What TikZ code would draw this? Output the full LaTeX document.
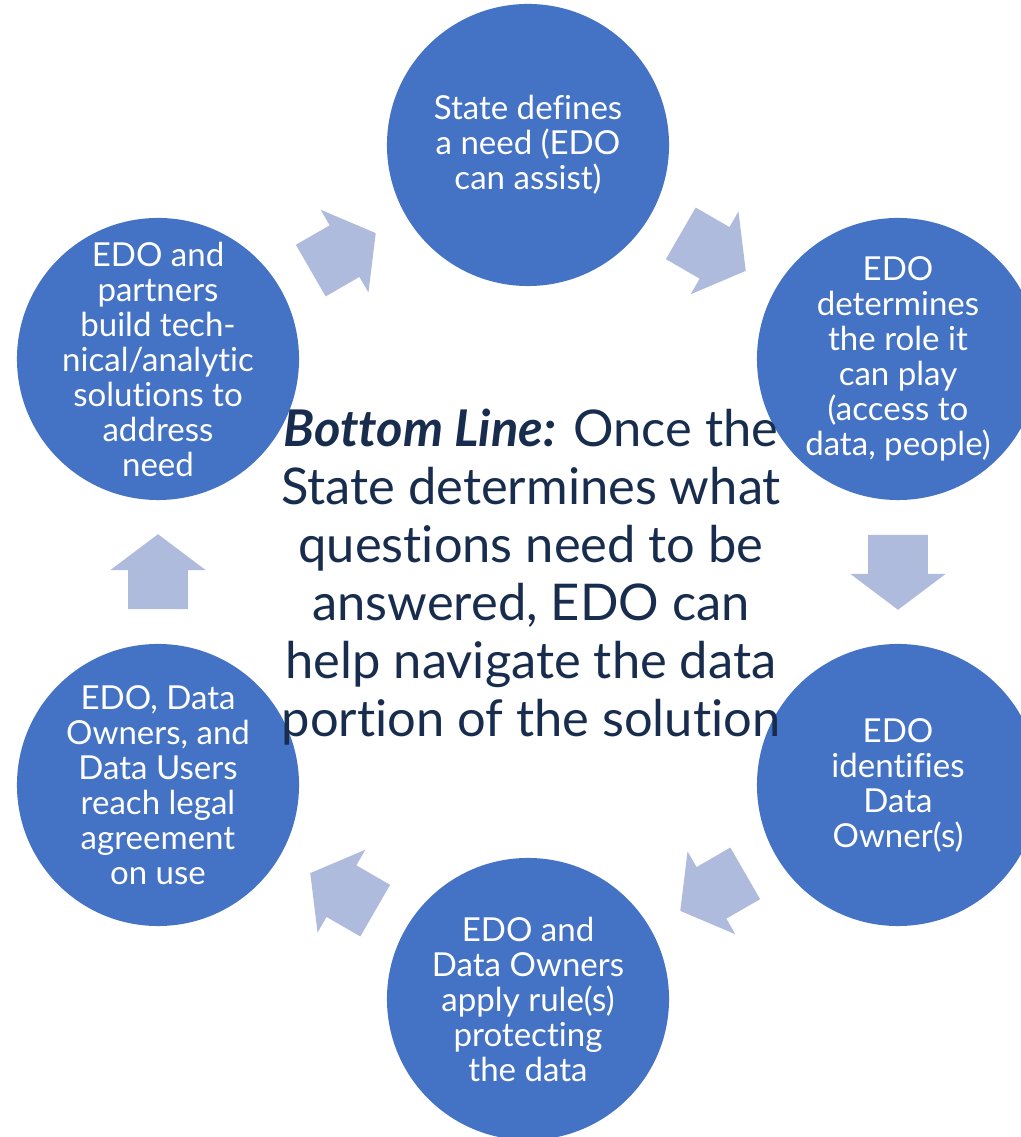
\documentclass[tikz,border=0pt]{standalone}
\usepackage{fontspec}
\setmainfont{Lato}[Ligatures=CommonOff]
\usetikzlibrary{shapes.arrows,calc}
\definecolor{stageblue}{RGB}{68,114,196}
\definecolor{turnblue}{RGB}{175,187,221}
\definecolor{linenavy}{RGB}{24,45,78}
\tikzstyle{stage} = [circle, fill=stageblue, text=white, minimum size=7.05cm, inner sep=-2cm, align=center, font=\fontsize{23.5}{24.9}\selectfont]
\tikzstyle{turn} = [single arrow, fill=turnblue, anchor=tail, minimum height=1.875cm, inner xsep=0pt, inner ysep=0.7375cm, single arrow head extend=0.45cm, single arrow tip angle=106]

\begin{document}
\begin{tikzpicture}[x=0.025cm, y=0.025cm]
\useasboundingbox (0,0) rectangle (1020,1137);

% the six steps of the cycle
\node [stage] (need) at (528,992) {State defines\\a need (EDO\\can assist)};
\node [stage] (role) at (898,778) {EDO\\determines\\the role it\\can play\\(access to\\data, people)};
\node [stage] (owners) at (898,352) {EDO\\identifies\\Data\\Owner(s)};
\node [stage] (rules) at (528,138) {EDO and\\Data Owners\\apply rule(s)\\protecting\\the data};
\node [stage] (legal) at (158,352) {EDO, Data\\Owners, and\\Data Users\\reach legal\\agreement\\on use};
\node [stage] (build) at (158,778) {EDO and\\partners\\build tech-\\nical/analytic\\solutions to\\address\\need};

% block arrows between the steps
\coordinate (m1) at ($(need)!0.5!(role)$);
\coordinate (m2) at ($(role)!0.5!(owners)$);
\coordinate (m3) at ($(owners)!0.5!(rules)$);
\coordinate (m4) at ($(rules)!0.5!(legal)$);
\coordinate (m5) at ($(legal)!0.5!(build)$);
\coordinate (m6) at ($(build)!0.5!(need)$);
\node [turn, rotate=-30] (t1) at ($(m1)!0.9375cm!(need)$) {};
\node [turn, rotate=-90] (t2) at ($(m2)!0.9375cm!(role)$) {};
\node [turn, rotate=-150] (t3) at ($(m3)!0.9375cm!(owners)$) {};
\node [turn, rotate=150] (t4) at ($(m4)!0.9375cm!(rules)$) {};
\node [turn, rotate=90] (t5) at ($(m5)!0.9375cm!(legal)$) {};
\node [turn, rotate=30] (t6) at ($(m6)!0.9375cm!(build)$) {};

\node [text=linenavy, align=center, font=\fontsize{36}{41.2}\selectfont] (bottomline) at (531,560)
  {{\bfseries\itshape Bottom Line:} Once the\\State determines what\\questions need to be\\answered, EDO can\\help navigate the data\\portion of the solution};
\end{tikzpicture}
\end{document}
